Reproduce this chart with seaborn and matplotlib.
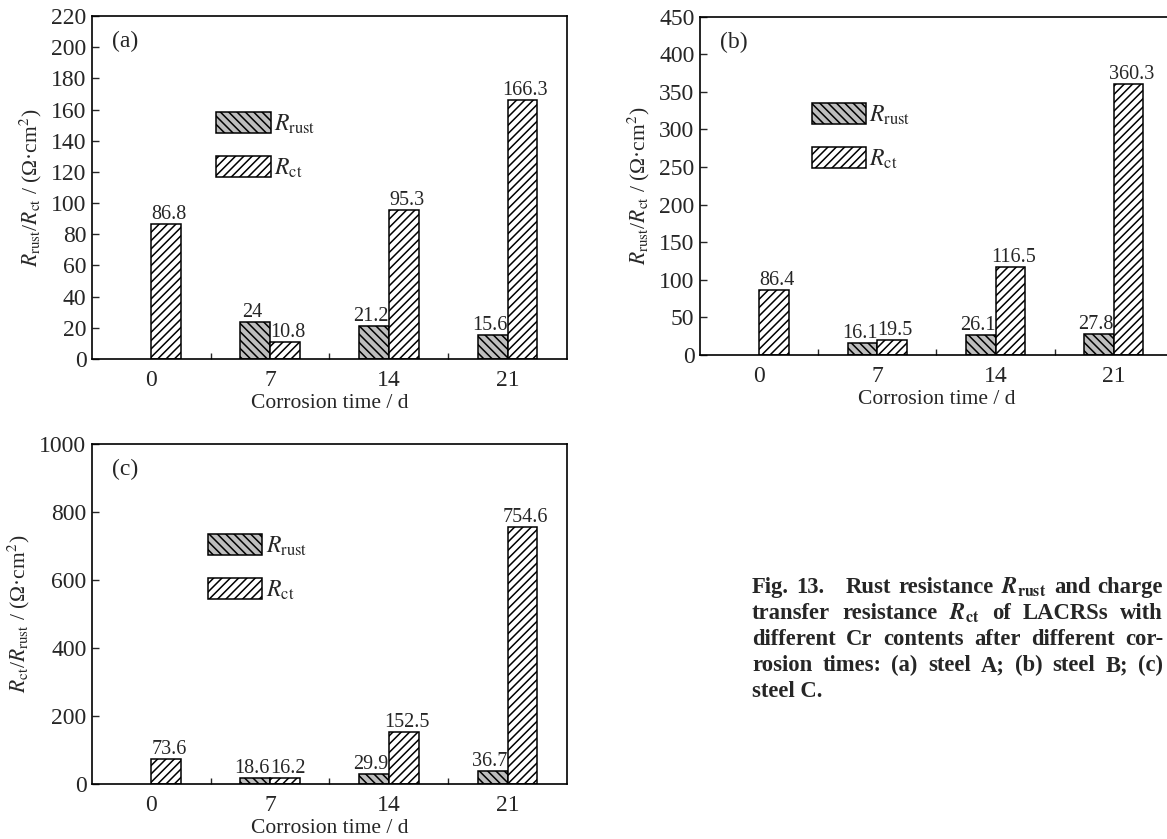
import numpy as np
import pandas as pd
import matplotlib
matplotlib.use("Agg")
import matplotlib.pyplot as plt
import matplotlib.patches as mpatches
from matplotlib import font_manager as fm
import seaborn as sns

# ---------------- data ----------------
days = ["0", "7", "14", "21"]
series_labels = [r"$R_{\mathrm{rust}}$", r"$R_{\mathrm{ct}}$"]

a_rust = [np.nan, 24, 21.2, 15.6]
a_ct = [86.8, 10.8, 95.3, 166.3]
b_rust = [np.nan, 16.1, 26.1, 27.8]
b_ct = [86.4, 19.5, 116.5, 360.3]
c_rust = [np.nan, 18.6, 29.9, 36.7]
c_ct = [73.6, 16.2, 152.5, 754.6]

panel_tags = ["(a)", "(b)", "(c)"]
ylabels = [r"$R_{\mathrm{rust}}$/$R_{\mathrm{ct}}$ / (Ω·cm$^2$)",
           r"$R_{\mathrm{rust}}$/$R_{\mathrm{ct}}$ / (Ω·cm$^2$)",
           r"$R_{\mathrm{ct}}$/$R_{\mathrm{rust}}$ / (Ω·cm$^2$)"]
xlabel = "Corrosion time / d"
caption_lines = [
    ["Fig.", "13.", "Rust", "resistance", r"$\boldsymbol{R}_{\mathbf{rust}}$", "and", "charge"],
    ["transfer", "resistance", r"$\boldsymbol{R}_{\mathbf{ct}}$", "of", "LACRSs", "with"],
    ["different", "Cr", "contents", "after", "different", "cor-"],
    ["rosion", "times:", "(a)", "steel", "A;", "(b)", "steel", "B;", "(c)"],
]
caption_last = "steel C."

# ---------------- fonts ----------------
serif_name = "Liberation Serif"
for f in fm.findSystemFonts():
    if "LiberationSerif" in f.replace(" ", ""):
        try:
            fm.fontManager.addfont(f)
            if "LiberationSerif-Regular" in f.replace(" ", ""):
                serif_name = fm.FontProperties(fname=f).get_name()
        except Exception:
            pass

# ---------------- style ----------------
sns.set_theme(style="ticks")
plt.rcParams["font.family"] = [serif_name, "DejaVu Serif"]
plt.rcParams["mathtext.fontset"] = "stix"
plt.rcParams["hatch.linewidth"] = 1.1
plt.rcParams["axes.linewidth"] = 1.2

fig = plt.figure(figsize=(11.67, 8.39), dpi=100)

positions = [
    [0.0788, 0.5721, 0.4070, 0.4088],
    [0.5998, 0.5769, 0.4053, 0.4032],
    [0.0788, 0.0656, 0.4070, 0.4052],
]
ylims = [(0, 220), (0, 450), (0, 1000)]
ysteps = [20, 50, 200]
legend_anchor = [(0.262, 0.720), (0.236, 0.745), (0.244, 0.735)]
data_sets = [(a_rust, a_ct), (b_rust, b_ct), (c_rust, c_ct)]

fills = {series_labels[0]: "#bdbdbd", series_labels[1]: "white"}
hatches = ["\\\\\\\\", "////"]
label_shift = [-2.2, 2.2]  # points, keeps neighbouring value labels apart

for i, (rust, ct) in enumerate(data_sets):
    ax = fig.add_axes(positions[i])
    df = pd.DataFrame({
        "day": days * 2,
        "series": [series_labels[0]] * 4 + [series_labels[1]] * 4,
        "value": list(rust) + list(ct),
    })
    sns.barplot(data=df, x="day", y="value", hue="series", order=days,
                hue_order=series_labels, palette=fills, width=0.5,
                edgecolor="black", linewidth=1.1, errorbar=None,
                legend=False, ax=ax)
    for cont, h, dx in zip(ax.containers, hatches, label_shift):
        for bar in cont:
            bar.set_hatch(h)
            bar.set_edgecolor("black")
        anns = ax.bar_label(cont, fmt="{:g}", padding=0, fontsize=14.5)
        for a in anns:
            ox, oy = a.xyann
            a.xyann = (ox + dx, oy)

    ax.set_xlim(-0.5, 3.5)
    ax.set_ylim(*ylims[i])
    ax.set_yticks(np.arange(ylims[i][0], ylims[i][1] + 1, ysteps[i]))
    ax.set_xticks([0.5, 1.5, 2.5], minor=True)
    ax.tick_params(axis="x", which="major", length=0, pad=8, labelsize=17)
    ax.tick_params(axis="x", which="minor", direction="in", length=4, width=1)
    ax.tick_params(axis="y", which="major", direction="in", length=5, width=1,
                   labelsize=17, pad=4)
    for s in ax.spines.values():
        s.set_visible(True)
        s.set_color("black")
    ax.set_xlabel(xlabel, fontsize=15.5, labelpad=2)
    ax.set_ylabel(ylabels[i], fontsize=15.5, labelpad=5)
    ax.text(0.042, 0.925, panel_tags[i], transform=ax.transAxes,
            fontsize=17, va="center", ha="left")

    handles = [mpatches.Patch(facecolor=fills[s], edgecolor="black",
                              hatch=h, linewidth=1.1)
               for s, h in zip(series_labels, hatches)]
    ax.legend(handles=handles, labels=series_labels, loc="upper left",
              bbox_to_anchor=legend_anchor[i], frameon=False, fontsize=17,
              handlelength=2.3, handleheight=1.0, handletextpad=0.15,
              labelspacing=0.85, borderaxespad=0, borderpad=0)

# ---------------- caption (justified) ----------------
cap_x0, cap_x1 = 752 / 1167, 1163 / 1167
baselines = [593, 619, 645, 671, 697]
cap_size = 16.3
renderer = fig.canvas.get_renderer()
for li, words in enumerate(caption_lines):
    y = 1 - baselines[li] / 839
    texts = [fig.text(0, y, w, fontsize=cap_size, fontweight="bold",
                      va="baseline", ha="left") for w in words]
    widths = [t.get_window_extent(renderer).width / fig.bbox.width for t in texts]
    weights = [1.0] * (len(words) - 1)
    if li == 0:
        weights[1] = 3.0
    gap_unit = (cap_x1 - cap_x0 - sum(widths)) / sum(weights)
    x = cap_x0
    for k, t in enumerate(texts):
        t.set_x(x)
        x += widths[k]
        if k < len(weights):
            x += gap_unit * weights[k]
fig.text(cap_x0, 1 - baselines[4] / 839, caption_last, fontsize=cap_size,
         fontweight="bold", va="baseline", ha="left")

fig.savefig("out.png", dpi=100)
